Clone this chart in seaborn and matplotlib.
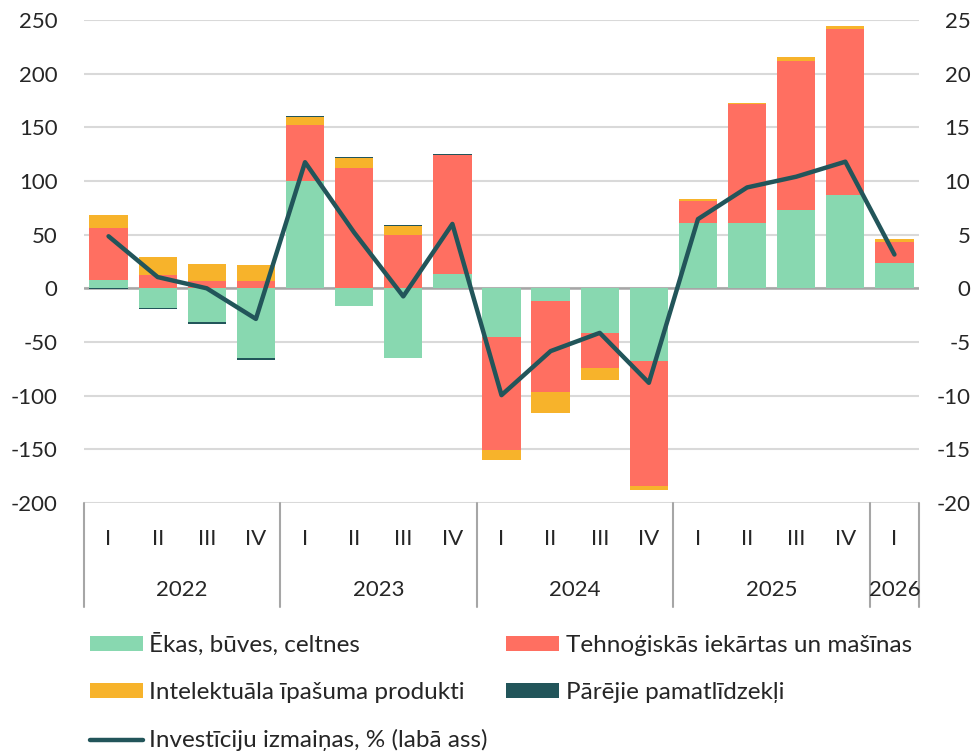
import numpy as np
import pandas as pd
import matplotlib.pyplot as plt
import seaborn as sns

# dati (milj. EUR izmaiņas un % izmaiņas)
quarters = ['I', 'II', 'III', 'IV'] * 4 + ['I']
years = ['2022', '2023', '2024', '2025', '2026']
year_of_bar = ['2022'] * 4 + ['2023'] * 4 + ['2024'] * 4 + ['2025'] * 4 + ['2026']

ekas = [8, -18, -31.5, -65, 100, -16.5, -65, 13, -45.5, -12, -41.5, -68, 61, 61, 73, 87, 23.5]
tehno = [48.5, 12, 7, 6.5, 52.5, 112.5, 50, 111, -105.5, -84.5, -32.5, -116, 20.5, 110.5, 138.5, 154.5, 20]
intelekt = [12, 17, 15.5, 15.5, 7, 8.5, 8, 0, -9, -19.5, -11.5, -4, 2, 1, 4, 3, 2]
parejie = [-0.5, -1, -1.5, -1.5, 1, 1, 1, 1, 0, 0, 0, 0, 0, 0, 0, 0, 0]
izmainas = [4.85, 1.05, 0.0, -2.85, 11.75, 5.2, -0.75, 6.0, -9.95, -5.85, -4.15, -8.8, 6.45, 9.4, 10.4, 11.8, 3.15]

series = {
    'Ēkas, būves, celtnes': ekas,
    'Tehnoģiskās iekārtas un mašīnas': tehno,
    'Intelektuāla īpašuma produkti': intelekt,
    'Pārējie pamatlīdzekļi': parejie,
}
colors = ['#88D8B0', '#FF6F61', '#F7B32B', '#22555A']
line_color = '#22555A'

sns.set_theme(style='white')
plt.rcParams['font.family'] = ['Lato', 'DejaVu Sans']
plt.rcParams['axes.unicode_minus'] = False
fs = 16

fig = plt.figure(figsize=(9.8, 7.55), dpi=100)
ax = fig.add_axes([84 / 980, 1 - 503 / 755, (919 - 84) / 980, 483 / 755])

x = np.arange(len(quarters))
pos_base = np.zeros(len(x))
neg_base = np.zeros(len(x))
handles = []
for (name, vals), c in zip(series.items(), colors):
    v = np.array(vals, dtype=float)
    bottom = np.where(v >= 0, pos_base, neg_base)
    h = ax.bar(x, v, bottom=bottom, width=0.78, color=c, label=name, linewidth=0, zorder=2)
    handles.append(h)
    pos_base = pos_base + np.where(v > 0, v, 0)
    neg_base = neg_base + np.where(v < 0, v, 0)

ax.set_xlim(-0.5, len(x) - 0.5)
ax.set_ylim(-200, 250)
ax.set_yticks(np.arange(-200, 251, 50))
ax.set_xticks([])
ax.grid(axis='y', color='#D9D9D9', linewidth=1.5, zorder=0)
ax.axhline(0, color='#A6A6A6', linewidth=1.8, zorder=1)
for s in ax.spines.values():
    s.set_visible(False)
ax.tick_params(axis='y', labelsize=fs, pad=19, length=0)

# labā ass - līnija
ax2 = ax.twinx()
line_df = pd.DataFrame({'x': x, 'y': izmainas})
sns.lineplot(data=line_df, x='x', y='y', ax=ax2, color=line_color, linewidth=3.2,
             label='Investīciju izmaiņas, % (labā ass)', legend=False, zorder=5)
ax2.set_ylim(-20, 25)
ax2.set_yticks(np.arange(-20, 26, 5))
ax2.set_xlim(-0.5, len(x) - 0.5)
ax2.set_xlabel('')
ax2.set_ylabel('')
ax2.grid(False)
for s in ax2.spines.values():
    s.set_visible(False)
ax2.tick_params(axis='y', labelsize=fs, pad=37, length=0)
for lbl in ax2.get_yticklabels():
    lbl.set_horizontalalignment('right')
ax.set_zorder(1)
ax2.set_zorder(2)
ax2.patch.set_visible(False)

# divu līmeņu kategoriju ass
trans = ax.get_xaxis_transform()
for i, q in enumerate(quarters):
    ax.text(i, -0.075, q, transform=trans, ha='center', va='center', fontsize=fs)
bounds = [-0.5]
for yr in years:
    idx = [i for i, y in enumerate(year_of_bar) if y == yr]
    ax.text((idx[0] + idx[-1]) / 2, -0.18, yr, transform=trans, ha='center', va='center', fontsize=fs)
    bounds.append(idx[-1] + 0.5)
for b in bounds:
    ax.plot([b, b], [0, -0.215], transform=trans, color='#A6A6A6', linewidth=1.5, clip_on=False)

line_handle = ax2.get_lines()[0]
leg_handles = [handles[0], handles[2], line_handle, handles[1], handles[3]]
leg_labels = [h.get_label() for h in leg_handles]
fig.legend(leg_handles, leg_labels, loc='upper left', bbox_to_anchor=(80 / 980, 1 - 623 / 755),
           ncol=2, frameon=False, fontsize=17.5, handlelength=2.2, handleheight=0.55,
           handletextpad=0.25, columnspacing=0.75, labelspacing=1.08, borderaxespad=0)

fig.savefig('out.png', dpi=100, facecolor='white')
